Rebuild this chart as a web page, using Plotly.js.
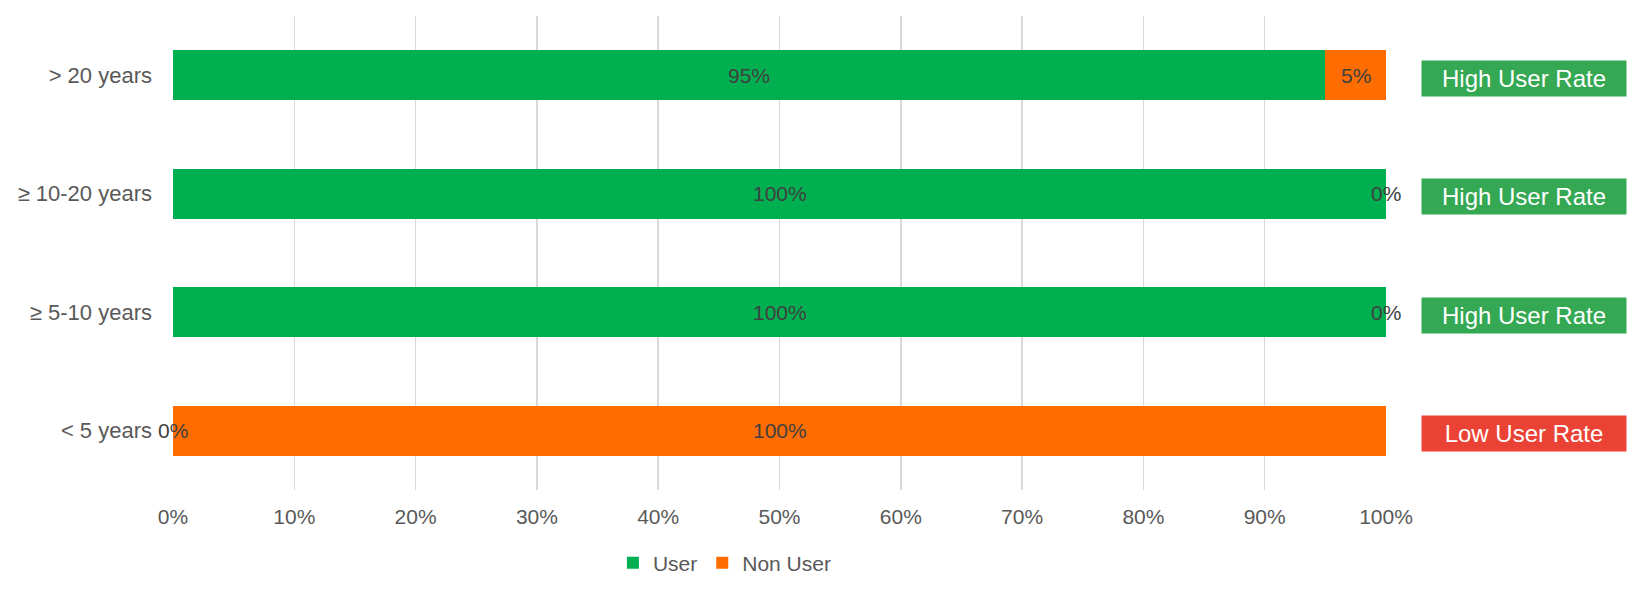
<!DOCTYPE html>
<html>
<head>
<meta charset="utf-8">
<script src="https://cdn.plot.ly/plotly-3.0.1.min.js"></script>
<style>
  html, body { margin: 0; padding: 0; background: #fff; }
  #chart { width: 1646px; height: 607px; }
</style>
</head>
<body>
<div id="chart"></div>
<script>
// rows listed top to bottom, as in the picture
const categories = ['> 20 years', '≥ 10-20 years', '≥ 5-10 years', '< 5 years'];
const userPct = [95, 100, 100, 0];
const nonUserPct = [5, 0, 0, 100];
const rateLabels = ['High User Rate', 'High User Rate', 'High User Rate', 'Low User Rate'];
const rateColors = ['#34A853', '#34A853', '#34A853', '#EA4335'];
const xTicks = [0, 10, 20, 30, 40, 50, 60, 70, 80, 90, 100];

const font = 'Liberation Sans, Arial, sans-serif';

const data = [
    {
        name: 'User',
        type: 'bar',
        orientation: 'h',
        y: categories,
        x: userPct,
        marker: { color: '#00B050' },
        hoverinfo: 'skip'
    },
    {
        name: 'Non User',
        type: 'bar',
        orientation: 'h',
        y: categories,
        x: nonUserPct,
        marker: { color: '#FF6D00' },
        hoverinfo: 'skip'
    }
];

// value labels sit in the middle of each segment (zero-width ones land on its edge)
const annotations = [];
categories.forEach((cat, i) => {
    annotations.push({
        x: userPct[i] / 2, y: cat, xref: 'x', yref: 'y',
        xanchor: 'center',
        text: userPct[i] + '%', showarrow: false,
        font: { family: font, size: 21, color: '#404040' }
    });
    annotations.push({
        x: userPct[i] + nonUserPct[i] / 2, y: cat, xref: 'x', yref: 'y',
        xanchor: 'center',
        text: nonUserPct[i] + '%', showarrow: false,
        font: { family: font, size: 21, color: '#404040' }
    });
    annotations.push({
        x: 1.1135, y: cat, xref: 'paper', yref: 'y',
        xanchor: 'center',
        text: rateLabels[i], showarrow: false,
        bgcolor: rateColors[i], width: 200, height: 31, borderpad: 2,
        yshift: -3,
        font: { family: font, size: 24, color: '#ffffff' }
    });
});

const layout = {
    width: 1646,
    height: 607,
    barmode: 'stack',
    bargap: 0.58,
    paper_bgcolor: '#ffffff',
    plot_bgcolor: '#ffffff',
    margin: { l: 173, r: 260, t: 16, b: 117 },
    font: { family: font, size: 21, color: '#595959' },
    xaxis: {
        range: [0, 100],
        tickvals: xTicks,
        ticktext: xTicks.map(v => v + '%'),
        showgrid: true,
        gridcolor: '#D9D9D9',
        gridwidth: 1.5,
        zeroline: false,
        showline: false,
        ticks: '',
        ticklabelstandoff: 12,
        tickfont: { family: font, size: 21, color: '#595959' },
        fixedrange: true
    },
    yaxis: {
        categoryorder: 'array',
        categoryarray: categories.slice().reverse(),
        showgrid: false,
        zeroline: false,
        showline: false,
        ticks: '',
        ticklabelstandoff: 20,
        tickfont: { family: font, size: 22, color: '#595959' },
        fixedrange: true
    },
    showlegend: true,
    legend: {
        orientation: 'h',
        x: 0.455,
        xanchor: 'center',
        y: -0.154,
        yanchor: 'middle',
        itemwidth: 30,
        traceorder: 'normal',
        font: { family: font, size: 21, color: '#595959' }
    },
    annotations: annotations
};

Plotly.newPlot('chart', data, layout, { displayModeBar: false, staticPlot: true });
</script>
</body>
</html>
